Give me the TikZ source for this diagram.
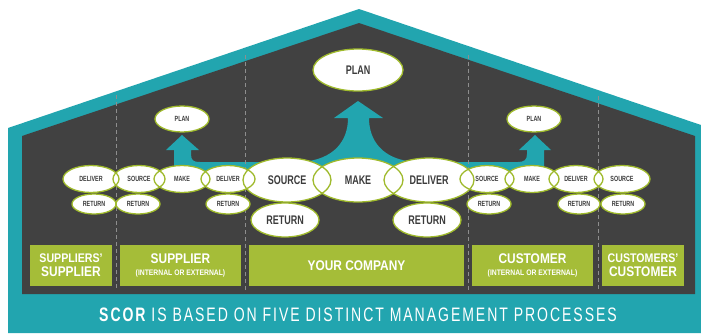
\documentclass[tikz,border=0pt]{standalone}
\usepackage{fontspec}
\setmainfont{Liberation Sans}[FakeStretch=0.72]
\newfontfamily\boxfont{Liberation Sans}[FakeStretch=0.85]
\newfontfamily\capfont{Liberation Sans}[FakeStretch=0.72, LetterSpace=10]
\usepackage{tikz}
\usetikzlibrary{shapes.geometric}
\definecolor{scorteal}{HTML}{22A5AF}
\definecolor{scordark}{HTML}{414141}
\definecolor{scorgreen}{HTML}{A5BD38}
\definecolor{ringgreen}{HTML}{9FBA2C}
\definecolor{inkgray}{HTML}{3C3C3C}
\definecolor{sepgray}{HTML}{8E8E8E}

\def\proclist{358/70/90/42/plan/bigproc/PLAN,
  287/180/88/44/src/bigproc/SOURCE,
  358/180/90/44/mk/bigproc/MAKE,
  429/180/90/44/dlv/bigproc/DELIVER,
  285/220/68/34/srcrtn/bigproc/RETURN,
  427/220/68/34/dlvrtn/bigproc/RETURN,
  182/119/54/26/splan/smallproc/PLAN,
  534/119/54/26/cplan/smallproc/PLAN,
  91/179/56/27/ssdlv/smallproc/DELIVER,
  139/179/52/27/ssrc/smallproc/SOURCE,
  182/179/56/27/smk/smallproc/MAKE,
  228/179/54/27/sdlv/smallproc/DELIVER,
  94/204/44/20/ssdlvrtn/smallproc/RETURN,
  138/204/44/20/ssrcrtn/smallproc/RETURN,
  228/204/44/20/sdlvrtn/smallproc/RETURN,
  487/179/54/27/csrc/smallproc/SOURCE,
  532/179/54/27/cmk/smallproc/MAKE,
  576/179/54/27/cdlv/smallproc/DELIVER,
  622/179/56/27/ccsrc/smallproc/SOURCE,
  489/204/44/20/csrcrtn/smallproc/RETURN,
  579/204/42/20/cdlvrtn/smallproc/RETURN,
  623/204/44/20/ccsrcrtn/smallproc/RETURN}

\begin{document}
\begin{tikzpicture}[x=1pt, y=-1pt,
    proc/.style={ellipse, draw=ringgreen, line width=1.3pt, inner sep=0pt, text=inkgray},
    bigproc/.style={proc, font=\bfseries\fontsize{12.5}{13}\selectfont},
    smallproc/.style={proc, font=\bfseries\fontsize{7.5}{8}\selectfont},
    tier/.style={fill=scorgreen, inner sep=0pt, minimum height=41pt, text=white, align=center,
      font=\boxfont\bfseries\fontsize{14}{14}\selectfont}]
    \useasboundingbox (0,0) rectangle (701,333);
    \fill[white] (0,0) rectangle (701,333);
    \fill[scorteal] (8,333) -- (8,128) -- (359,9) -- (701,125) -- (701,333) -- cycle;
    \fill[scordark] (22,294) -- (22,136) -- (359,23) -- (695,136) -- (695,294) -- cycle;

    \fill[scorteal] (174,182) -- (174,150) -- (166,150) -- (182,135) -- (199,150) -- (191,150) -- (191,154)
      .. controls (191,160) and (193,162) .. (200,162) -- (300,162)
      .. controls (335,160) and (348,140) .. (348,118) -- (334,118) -- (358,101) -- (383,118) -- (369,118)
      .. controls (369,140) and (382,160) .. (416,162) -- (518,162)
      .. controls (524,162) and (527,160) .. (527,154) -- (527,150) -- (519,150) -- (535,135) -- (551,150)
      -- (544,150) -- (544,182) -- cycle;

    \foreach \sx/\sy in {116/95, 245/55, 468/55, 598/96}
      \draw[sepgray, line width=1pt, dash pattern=on 4pt off 3pt] (\sx,\sy) -- (\sx,290);

    \foreach \px/\py/\dw/\dh/\n/\st/\lbl in \proclist
      \fill[white] (\px,\py) ellipse [x radius=\dw/2*1pt, y radius=\dh/2*1pt];
    \foreach \px/\py/\dw/\dh/\n/\st/\lbl in \proclist
      \node[\st, minimum width=\dw*1pt, minimum height=\dh*1pt] (\n) at (\px,\py) {\lbl};

    \node[tier, minimum width=82pt] (supsup) at (71,265.5) {\fontsize{12.5}{16}\selectfont SUPPLIERS’\\SUPPLIER};
    \node[tier, minimum width=121pt] (sup) at (180.5,265.5) {SUPPLIER\\[-2pt]{\fontsize{8}{8}\selectfont (INTERNAL OR EXTERNAL)}};
    \node[tier, minimum width=215pt] (comp) at (356.5,265.5) {YOUR COMPANY};
    \node[tier, minimum width=121pt] (cust) at (532.5,265.5) {CUSTOMER\\[-2pt]{\fontsize{8}{8}\selectfont (INTERNAL OR EXTERNAL)}};
    \node[tier, minimum width=82pt] (custcust) at (643,265.5) {\fontsize{12.5}{16}\selectfont CUSTOMERS’\\CUSTOMER};

    \node[text=white, font=\capfont\fontsize{19.5}{20}\selectfont] (title) at (358,315)
      {{\bfseries SCOR} IS BASED ON FIVE DISTINCT MANAGEMENT PROCESSES};
\end{tikzpicture}
\end{document}
